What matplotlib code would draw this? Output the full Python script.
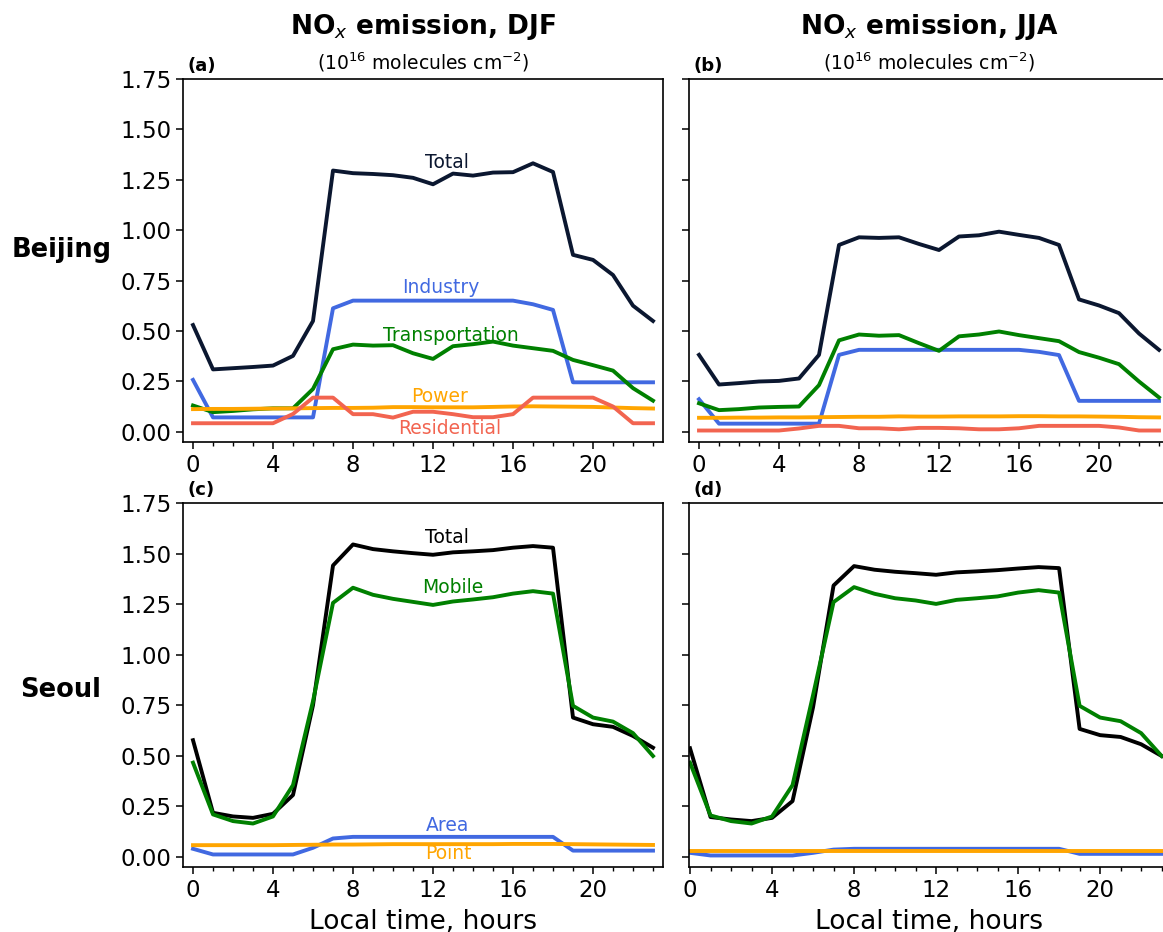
import numpy as np
import matplotlib.pyplot as plt
from matplotlib.ticker import MultipleLocator, FormatStrFormatter

# ========== data: hourly NOx emission (1e16 molecules cm-2) ==========
hours = np.arange(24)

# Beijing, DJF
bj_djf_total = [0.53, 0.31, 0.316, 0.322, 0.329, 0.377, 0.55, 1.296, 1.283, 1.279, 1.273, 1.26,
                1.228, 1.281, 1.271, 1.286, 1.288, 1.332, 1.289, 0.878, 0.853, 0.778, 0.626, 0.55]
bj_djf_industry = [0.258, 0.072, 0.072, 0.072, 0.072, 0.072, 0.072, 0.613, 0.651, 0.651, 0.651, 0.651,
                   0.651, 0.651, 0.651, 0.651, 0.651, 0.633, 0.605, 0.246, 0.246, 0.246, 0.246, 0.246]
bj_djf_transport = [0.131, 0.098, 0.104, 0.112, 0.117, 0.117, 0.213, 0.41, 0.433, 0.428, 0.43, 0.39,
                    0.362, 0.425, 0.435, 0.448, 0.428, 0.415, 0.402, 0.357, 0.331, 0.304, 0.217, 0.155]
bj_djf_power = [0.113, 0.114, 0.114, 0.115, 0.116, 0.117, 0.118, 0.119, 0.119, 0.12, 0.123, 0.123,
                0.122, 0.122, 0.122, 0.124, 0.126, 0.127, 0.126, 0.125, 0.124, 0.121, 0.118, 0.116]
bj_djf_resid = [0.043, 0.043, 0.043, 0.043, 0.043, 0.089, 0.17, 0.17, 0.088, 0.088, 0.071, 0.10,
                0.10, 0.088, 0.073, 0.073, 0.088, 0.17, 0.17, 0.17, 0.17, 0.126, 0.043, 0.043]

# Beijing, JJA
bj_jja_total = [0.382, 0.235, 0.242, 0.25, 0.253, 0.265, 0.382, 0.927, 0.965, 0.962, 0.965, 0.932,
                0.902, 0.969, 0.975, 0.993, 0.977, 0.962, 0.927, 0.657, 0.627, 0.589, 0.488, 0.407]
bj_jja_industry = [0.162, 0.041, 0.041, 0.041, 0.041, 0.041, 0.041, 0.382, 0.407, 0.407, 0.407, 0.407,
                   0.407, 0.407, 0.407, 0.407, 0.407, 0.397, 0.381, 0.154, 0.154, 0.154, 0.154, 0.154]
bj_jja_transport = [0.142, 0.108, 0.113, 0.121, 0.124, 0.126, 0.232, 0.454, 0.483, 0.477, 0.48, 0.44,
                    0.402, 0.474, 0.483, 0.498, 0.48, 0.465, 0.45, 0.396, 0.368, 0.336, 0.25, 0.171]
bj_jja_power = [0.070, 0.070, 0.071, 0.071, 0.072, 0.072, 0.073, 0.074, 0.075, 0.075, 0.077, 0.076,
                0.076, 0.077, 0.077, 0.077, 0.078, 0.078, 0.077, 0.077, 0.076, 0.075, 0.073, 0.072]
bj_jja_resid = [0.007, 0.007, 0.007, 0.007, 0.007, 0.017, 0.03, 0.03, 0.018, 0.018, 0.013, 0.02,
                0.02, 0.018, 0.013, 0.013, 0.018, 0.03, 0.03, 0.03, 0.03, 0.022, 0.007, 0.007]

# Seoul, DJF
se_djf_total = [0.577, 0.218, 0.2, 0.193, 0.213, 0.306, 0.75, 1.441, 1.545, 1.522, 1.511, 1.502,
                1.494, 1.506, 1.511, 1.517, 1.529, 1.537, 1.529, 0.689, 0.656, 0.643, 0.598, 0.54]
se_djf_mobile = [0.466, 0.21, 0.177, 0.165, 0.2, 0.355, 0.77, 1.256, 1.331, 1.296, 1.276, 1.261,
                 1.246, 1.263, 1.273, 1.284, 1.302, 1.314, 1.302, 0.747, 0.689, 0.669, 0.612, 0.499]
se_djf_area = [0.04, 0.012, 0.012, 0.012, 0.012, 0.012, 0.045, 0.091, 0.099, 0.099, 0.099, 0.099,
               0.099, 0.099, 0.099, 0.099, 0.099, 0.099, 0.099, 0.031, 0.031, 0.031, 0.031, 0.031]
se_djf_point = [0.058, 0.058, 0.058, 0.058, 0.058, 0.059, 0.06, 0.061, 0.061, 0.062, 0.063, 0.063,
                0.063, 0.063, 0.063, 0.063, 0.064, 0.064, 0.064, 0.063, 0.062, 0.061, 0.06, 0.059]

# Seoul, JJA
se_jja_total = [0.537, 0.197, 0.185, 0.177, 0.193, 0.276, 0.74, 1.342, 1.438, 1.42, 1.41, 1.403,
                1.395, 1.407, 1.412, 1.418, 1.426, 1.433, 1.428, 0.633, 0.602, 0.593, 0.557, 0.499]
se_jja_mobile = [0.466, 0.205, 0.177, 0.165, 0.2, 0.355, 0.80, 1.26, 1.334, 1.301, 1.279, 1.268,
                 1.251, 1.271, 1.279, 1.288, 1.307, 1.319, 1.307, 0.747, 0.689, 0.671, 0.612, 0.499]
se_jja_area = [0.02, 0.007, 0.007, 0.007, 0.007, 0.007, 0.02, 0.036, 0.04, 0.04, 0.04, 0.04,
               0.04, 0.04, 0.04, 0.04, 0.04, 0.04, 0.04, 0.015, 0.015, 0.015, 0.015, 0.015]
se_jja_point = [0.028] * 24

# ========== colours ==========
c_total_bj = '#0b1730'
c_total_se = 'black'
c_ind = '#4169e1'
c_tra = 'green'
c_pow = 'orange'
c_res = '#f26450'

W, H = 1163, 932
fig = plt.figure(figsize=(W / 100, H / 100), dpi=100)


def pos(left, top, width, height):
    return [left / W, 1 - (top + height) / H, width / W, height / H]


ax_a = fig.add_axes(pos(183, 79, 480, 363))
ax_b = fig.add_axes(pos(689, 79, 480, 363))
ax_c = fig.add_axes(pos(183, 503, 480, 364))
ax_d = fig.add_axes(pos(689, 503, 480, 364))

lw = 2.8
ax_a.plot(hours, bj_djf_total, color=c_total_bj, lw=lw)
ax_a.plot(hours, bj_djf_industry, color=c_ind, lw=lw)
ax_a.plot(hours, bj_djf_transport, color=c_tra, lw=lw)
ax_a.plot(hours, bj_djf_power, color=c_pow, lw=lw)
ax_a.plot(hours, bj_djf_resid, color=c_res, lw=lw)

ax_b.plot(hours, bj_jja_total, color=c_total_bj, lw=lw)
ax_b.plot(hours, bj_jja_industry, color=c_ind, lw=lw)
ax_b.plot(hours, bj_jja_transport, color=c_tra, lw=lw)
ax_b.plot(hours, bj_jja_power, color=c_pow, lw=lw)
ax_b.plot(hours, bj_jja_resid, color=c_res, lw=lw)

ax_c.plot(hours, se_djf_total, color=c_total_se, lw=lw)
ax_c.plot(hours, se_djf_mobile, color=c_tra, lw=lw)
ax_c.plot(hours, se_djf_area, color=c_ind, lw=lw)
ax_c.plot(hours, se_djf_point, color=c_pow, lw=lw)

ax_d.plot(hours, se_jja_total, color=c_total_se, lw=lw)
ax_d.plot(hours, se_jja_mobile, color=c_tra, lw=lw)
ax_d.plot(hours, se_jja_area, color=c_ind, lw=lw)
ax_d.plot(hours, se_jja_point, color=c_pow, lw=lw)

# ========== line labels ==========
lab = dict(fontsize=13.5, ha='center', va='center')
ax_a.text(12.7, 1.334, 'Total', color=c_total_bj, **lab)
ax_a.text(12.4, 0.714, 'Industry', color=c_ind, **lab)
ax_a.text(12.9, 0.476, 'Transportation', color=c_tra, **lab)
ax_a.text(12.35, 0.178, 'Power', color=c_pow, **lab)
ax_a.text(12.85, 0.015, 'Residential', color=c_res, **lab)
ax_c.text(12.7, 1.579, 'Total', color=c_total_se, **lab)
ax_c.text(13.0, 1.332, 'Mobile', color=c_tra, **lab)
ax_c.text(12.75, 0.153, 'Area', color=c_ind, **lab)
ax_c.text(12.75, 0.015, 'Point', color=c_pow, **lab)

# ========== axes styling ==========
for ax, letter in zip([ax_a, ax_b, ax_c, ax_d], 'abcd'):
    ax.set_ylim(-0.05, 1.75)
    ax.xaxis.set_major_locator(MultipleLocator(4))
    ax.xaxis.set_minor_locator(MultipleLocator(1))
    ax.yaxis.set_major_locator(MultipleLocator(0.25))
    ax.yaxis.set_major_formatter(FormatStrFormatter('%.2f'))
    ax.tick_params(which='major', labelsize=16.5, length=5, width=1.1)
    ax.tick_params(which='minor', length=3, width=1.0)
    for s in ax.spines.values():
        s.set_linewidth(1.2)
    ax.text(0.01, 1.012, f'({letter})', transform=ax.transAxes, fontsize=13,
            fontweight='bold', ha='left', va='bottom')

ax_a.set_xlim(-0.5, 23.5)
ax_b.set_xlim(-0.5, 23.5)
ax_c.set_xlim(-0.5, 23.5)
ax_d.set_xlim(-0.05, 23.36)
ax_b.tick_params(labelleft=False)
ax_d.tick_params(labelleft=False)

ax_c.set_xlabel('Local time, hours', fontsize=19, labelpad=5)
ax_d.set_xlabel('Local time, hours', fontsize=19, labelpad=5)

# ========== column titles and row labels ==========
for xc, season in [(423, 'DJF'), (929, 'JJA')]:
    fig.text(xc / W, 1 - 27 / H, f'NO$_x$ emission, {season}', fontsize=19,
             fontweight='bold', ha='center', va='center')
    fig.text(xc / W, 1 - 62 / H, '(10$^{16}$ molecules cm$^{-2}$)', fontsize=13.5,
             ha='center', va='center')

fig.text(62 / W, 1 - 250 / H, 'Beijing', fontsize=18.5, fontweight='bold', ha='center', va='center')
fig.text(61 / W, 1 - 690 / H, 'Seoul', fontsize=18.5, fontweight='bold', ha='center', va='center')

fig.savefig('out.png', dpi=100)
